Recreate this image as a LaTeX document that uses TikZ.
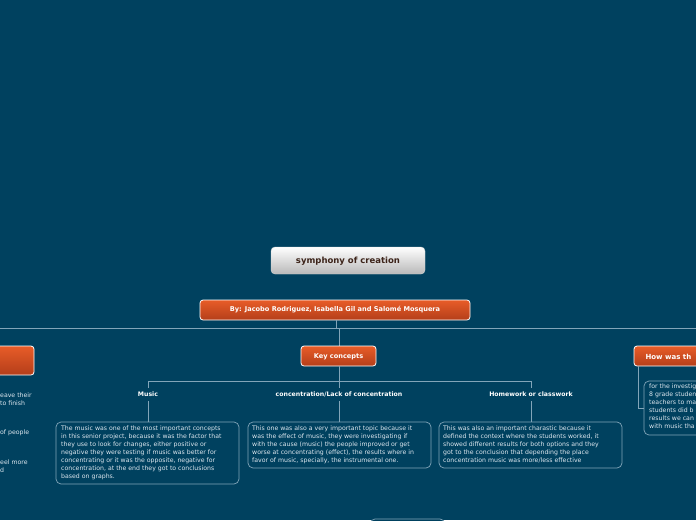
\documentclass[tikz,border=0pt]{standalone}
\usepackage{fontspec}
\setmainfont{DejaVu Sans}
\begin{document}
\begin{tikzpicture}[x=1pt,y=-1pt,
  bg/.style={fill=bgc},
  orangebox/.style={draw=white,line width=0.8pt,rounded corners=3pt,top color=orT,bottom color=orB,text=white,font=\bfseries\fontsize{7}{8}\selectfont,inner sep=0pt},
  txtbox/.style={draw=lnc,line width=0.7pt,rounded corners=5pt},
  body/.style={anchor=north west,align=left,text=txc,font=\fontsize{6.2}{8}\selectfont,inner sep=0pt},
  lbl/.style={text=white,font=\bfseries\fontsize{6.2}{8}\selectfont,inner sep=0pt},
  conn/.style={draw=lnc,line width=0.8pt}]
\definecolor{bgc}{RGB}{0,65,95}
\definecolor{orT}{RGB}{232,92,40}
\definecolor{orB}{RGB}{180,62,26}
\definecolor{lnc}{RGB}{130,165,185}
\definecolor{txc}{RGB}{220,230,238}
\definecolor{ttl}{RGB}{60,35,25}
\fill[bgc] (0,0) rectangle (696,520);
\useasboundingbox (0,0) rectangle (696,520);
\begin{scope}
\clip (0,0) rectangle (696,520);
% title
\shade[top color=white,bottom color=gray!55,draw=gray!30,rounded corners=4pt] (271,247) rectangle (425,274);
\node[text=ttl,font=\bfseries\fontsize{8.5}{10}\selectfont] (title) at (348,261) {symphony of creation};
% author
\draw[orangebox] (200,300) rectangle (470,320);
\node[text=white,font=\bfseries\fontsize{6.6}{8}\selectfont] (auth) at (335,310) {By: Jacobo Rodriguez, Isabella Gil and Salomé Mosquera};
\coordinate (hl) at (0,328); \coordinate (hr) at (696,328);
\draw[conn] (hl) -- (hr);
\draw[conn] (336,320) -- (336,328) -- (339,328) -- (339,346);
% key concepts
\draw[orangebox] (301,346) rectangle (376,366);
\node[text=white,font=\bfseries\fontsize{6.6}{8}\selectfont] (kc) at (338.5,356.5) {Key concepts};
% left partial
\draw[orangebox] (-10,346) rectangle (34,375);
\node[body] (l1) at (0,393) {eave their\\to finish};
\node[body] (l2) at (0,430) {of people};
\node[body] (l3) at (0,460) {eel more\\d};
% right partial
\draw[orangebox] (634,346) rectangle (710,366);
\node[anchor=west,text=white,font=\bfseries\fontsize{7}{8}\selectfont] (how) at (642,356.5) {How was th};
\draw[txtbox] (644,381) rectangle (720,435);
\node[body] (rt) at (649,384) {for the investig\\8 grade studen\\teachers to ma\\students did b\\results we can\\with music tha};
\draw[conn] (638,366) -- (638,408) -- (644,408);
% bottom partial box
\draw[txtbox,fill=bgc] (370,519) rectangle (445,540);
\end{scope}
% branches
\draw[conn] (339,366) -- (339,381);
\draw[conn] (148,388) -- (148,381) -- (531,381) -- (531,388);
\draw[conn] (339,381) -- (339,388);
\node[lbl] (mus) at (148,394.5) {Music};
\node[lbl] (con) at (339,394.5) {concentration/Lack of concentration};
\node[lbl] (hw) at (531,394.5) {Homework or classwork};
\draw[conn] (148,401) -- (148,422);
\draw[conn] (339,401) -- (339,422);
\draw[conn] (531,401) -- (531,422);
\draw[txtbox] (56,422) rectangle (239,484);
\node[body] (mt) at (61,425.5) {The music was one of the most important concepts\\in this senior project, because it was the factor that\\they use to look for changes, either positive or\\negative they were testing if music was better for\\concentrating or it was the opposite, negative for\\concentration, at the end they got to conclusions\\based on graphs.};
\draw[txtbox] (248,422) rectangle (431,468);
\node[body] (ct) at (252,425.5) {This one was also a very important topic because it\\was the effect of music, they were investigating if\\with the cause (music) the people improved or get\\worse at concentrating (effect), the results where in\\favor of music, specially, the instrumental one.};
\draw[txtbox] (439,422) rectangle (622,468);
\node[body] (ht) at (443,425.5) {This was also an important charastic because it\\defined the context where the students worked, it\\showed different results for both options and they\\got to the conclusion that depending the place\\concentration music was more/less effective};
\end{tikzpicture}
\end{document}
